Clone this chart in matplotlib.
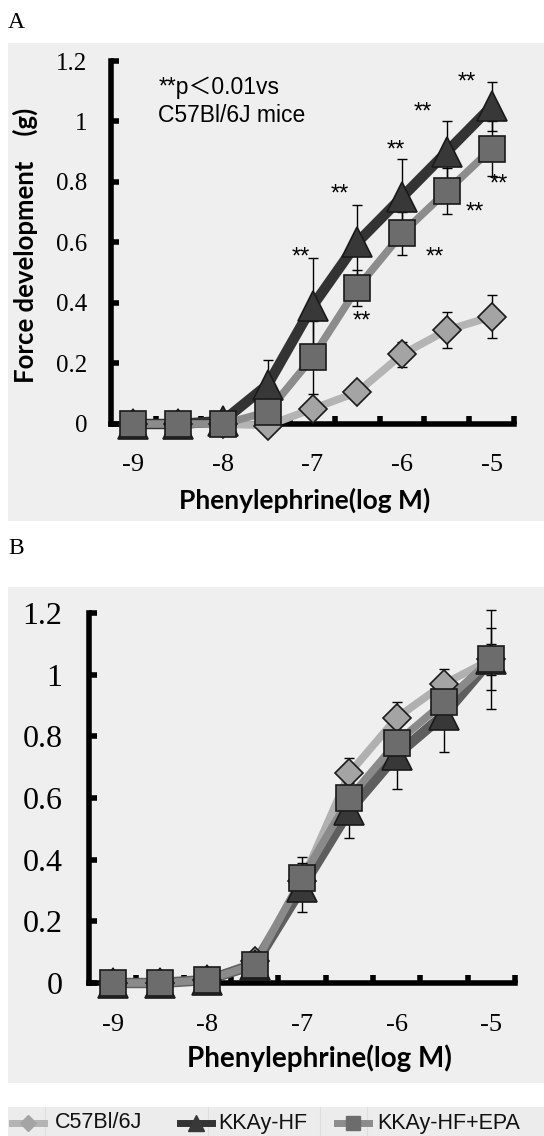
#Phenylephrine dose-response curves, panels A and B
import numpy as np
import matplotlib
matplotlib.use('Agg')
import matplotlib.pyplot as plt
from matplotlib.patches import Rectangle
from matplotlib.lines import Line2D

conc = ['-9','-8.5','-8','-7.5','-7','-6.5','-6','-5.5','-5']
tick_names = ['-9','','-8','','-7','','-6','','-5']
series = ['C57Bl/6J','KKAy-HF','KKAy-HF+EPA']

#panel A
a_c57 = [0, 0, 0, -0.005, 0.05, 0.105, 0.23, 0.31, 0.355]
a_c57_err = [0, 0, 0, 0, 0.01, 0.01, 0.04, 0.06, 0.07]
a_hf = [0, 0, 0.01, 0.13, 0.39, 0.60, 0.75, 0.90, 1.05]
a_hf_err = [0, 0, 0, 0.08, 0.16, 0.125, 0.125, 0.10, 0.08]
a_epa = [0, 0, 0, 0.04, 0.22, 0.45, 0.63, 0.77, 0.91]
a_epa_err = [0, 0, 0, 0.02, 0.12, 0.06, 0.07, 0.075, 0.09]
#(x index, y) of the ** marks
a_stars_hf = [(3.73,0.55),(4.62,0.76),(5.85,0.905),(6.47,1.03),(7.45,1.13)]
a_stars_epa = [(5.1,0.34),(6.74,0.55),(7.63,0.70),(8.15,0.79)]

#panel B
b_c57 = [0, 0, 0.01, 0.07, 0.33, 0.68, 0.86, 0.97, 1.05]
b_c57_err = [0, 0, 0, 0.01, 0.03, 0.05, 0.05, 0.05, 0.05]
b_hf = [0, 0, 0.01, 0.06, 0.31, 0.56, 0.74, 0.87, 1.05]
b_hf_err = [0, 0, 0, 0.01, 0.08, 0.09, 0.11, 0.12, 0.10]
b_epa = [0, 0, 0.01, 0.06, 0.34, 0.60, 0.78, 0.91, 1.05]
b_epa_err = [0, 0, 0, 0.01, 0.07, 0.07, 0.07, 0.08, 0.16]

W,H = 544,1136
fig = plt.figure(figsize=(W/100,H/100), dpi=100)
fig.patch.set_facecolor('white')

def px(l,t,w,h):
	return [l/W, 1-(t+h)/H, w/W, h/H]

bg = '#efefef'
for (t,h) in [(43,478),(587,496)]:
	fig.patches.append(Rectangle((8/W,1-(t+h)/H),(W-8)/W,h/H,transform=fig.transFigure,facecolor=bg,edgecolor='none',zorder=-5))
fig.patches.append(Rectangle((8/W,0),(W-8)/W,29/H,transform=fig.transFigure,facecolor='#ececec',edgecolor='none',zorder=-5))
for xs in [45,208,320,367]:
	fig.lines.append(Line2D([xs/W,xs/W],[0,29/H],transform=fig.transFigure,color='#dedede',lw=0.8,zorder=-4))

fig.text(8/W,1-23/H,'A',fontsize=17,family='Liberation Serif',va='center')
fig.text(8/W,1-548/H,'B',fontsize=17,family='Liberation Serif',va='center')

x = np.arange(len(conc))
styles = {
	'C57Bl/6J': dict(marker='D', ms=14, mfc='#a4a4a4', line='#b4b4b4', lw=5.5),
	'KKAy-HF': dict(marker='^', ms=21, mfc='#383838', line='#333333', lw=7.5),
	'KKAy-HF+EPA': dict(marker='s', ms=19, mfc='#6c6c6c', line='#8c8c8c', lw=5.5),
}

def draw(ax, data, line_over=None):
	for name,(vals,err) in zip(series,data):
		s = styles[name]
		lc = s['line'] if line_over is None else line_over[name]
		ax.plot(x, vals, color=lc, lw=s['lw'], zorder=2, solid_capstyle='round', clip_on=False)
		ax.errorbar(x, vals, yerr=err, fmt='none', ecolor='black', elinewidth=1, capsize=3.5, capthick=1, zorder=3, clip_on=False)
	for name,(vals,err) in zip(series,data):
		s = styles[name]
		ax.plot(x, vals, ls='none', marker=s['marker'], ms=s['ms'], mfc=s['mfc'], mec='#1a1a1a', mew=1.2, zorder=4, clip_on=False)

def style_axes(ax, ysize, ypad, label_y):
	ax.set_facecolor('none')
	ax.set_xlim(-0.5, 8.5)
	ax.set_ylim(0, 1.2)
	for sp in ['top','right']:
		ax.spines[sp].set_visible(False)
	for sp in ['left','bottom']:
		ax.spines[sp].set_linewidth(4)
		ax.spines[sp].set_zorder(1)
	ax.set_yticks([0,0.2,0.4,0.6,0.8,1.0,1.2])
	ax.set_yticklabels(['0','0.2','0.4','0.6','0.8','1','1.2'], fontfamily='Liberation Serif', fontsize=ysize)
	ax.set_xticks(x+0.5)
	ax.set_xticklabels([])
	#category names sit between the tick marks
	for i,name in zip(x,tick_names):
		ax.text(i, label_y, name, transform=ax.get_xaxis_transform(), ha='center', va='center',
			fontsize=19, family='Liberation Serif')
	ax.tick_params(axis='y', direction='in', length=6, width=4, pad=ypad)
	ax.tick_params(axis='x', which='major', direction='in', length=6, width=4)

axA = fig.add_axes(px(111,61,403,363))
draw(axA, [(a_c57,a_c57_err),(a_hf,a_hf_err),(a_epa,a_epa_err)])
style_axes(axA, 18, 17, -41/363)
axA.set_xlabel('Phenylephrine(log M)', fontsize=19, fontweight='bold', family='Lato', va='center')
axA.xaxis.set_label_coords(0.481, -0.209)
axA.set_ylabel('Force development    (g)', fontsize=18.5, fontweight='bold', family='Lato', va='center')
axA.yaxis.set_label_coords(-0.213, 0.493)
for (i,v) in a_stars_hf+a_stars_epa:
	axA.text(i, v, '**', fontsize=17, family='Liberation Sans', ha='center', va='center', zorder=5)
axA.text(0.56, 1.114, '**p\uff1c0.01vs', fontsize=16.5, family=['Liberation Sans','Noto Sans CJK JP'], va='center')
axA.text(0.56, 1.02, 'C57Bl/6J mice', fontsize=16.5, family='Liberation Sans', va='center')

axB = fig.add_axes(px(89,613,426,370))
b_lines = {'C57Bl/6J':'#b0b0b0','KKAy-HF':'#5e5e5e','KKAy-HF+EPA':'#8a8a8a'}
draw(axB, [(b_c57,b_c57_err),(b_hf,b_hf_err),(b_epa,b_epa_err)], b_lines)
style_axes(axB, 23, 19, -42/370)
axB.set_xlabel('Phenylephrine(log M)', fontsize=20, fontweight='bold', family='Lato', va='center')
axB.xaxis.set_label_coords(0.542, -0.203)

#legend strip at the bottom
legx = [(12,55),(180,218),(337,377)]
for name,(ix,tx) in zip(series,legx):
	s = styles[name]
	yy = 1-1123/H
	fig.lines.append(Line2D([ix/W,(ix+32)/W],[yy,yy],transform=fig.transFigure,color=s['line'],lw=5))
	fig.lines.append(Line2D([(ix+16)/W],[yy],transform=fig.transFigure,marker=s['marker'],ms=s['ms']*0.55,mfc=s['mfc'],mec=s['mfc'],ls='none'))
	fig.text(tx/W, yy, name, fontsize=15.5, family='Liberation Sans', va='center', color='#111111')

fig.savefig('out.png', dpi=100)
